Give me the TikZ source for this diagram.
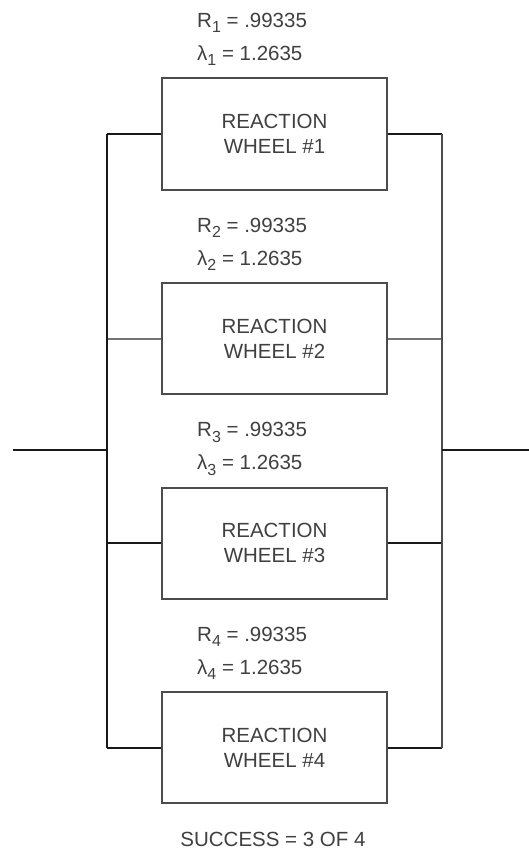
\documentclass[tikz,border=0pt]{standalone}
\usepackage{fontspec}
\setmainfont{Liberation Sans}
\newcommand{\sbs}[1]{\raisebox{-5.5pt}{\fontsize{16}{16}\selectfont #1}}
\begin{document}
\begin{tikzpicture}[x=1pt,y=-1pt,
  wheel/.style={draw=black!70,line width=2pt,minimum width=225pt,minimum height=111pt,
    align=center,inner sep=0pt,text=black!75,font=\fontsize{20.5}{25}\selectfont},
  lbl/.style={anchor=base west,inner sep=0pt,text=black!75,font=\fontsize{20.5}{22}\selectfont},
  wire/.style={line width=2pt,draw=black!90},
  lightwire/.style={line width=2pt,draw=black!55}]
\fill[white] (0,0) rectangle (529,853);
\useasboundingbox (0,0) rectangle (529,853);
\foreach \i/\y in {1/134,2/338.5,3/543,4/747.5}{
  \node[wheel] (w\i) at (274.5,\y) {REACTION\\WHEEL \#\i};
  \node[lbl] (r\i) at (197,\y-55.5-51) {R\sbs{\i} = .99335};
  \node[lbl] (l\i) at (197,\y-55.5-18) {λ\sbs{\i} = 1.2635};
  \coordinate (a\i) at (107,\y);
  \coordinate (b\i) at (442,\y);
}
\foreach \i in {1,3,4}{
  \draw[wire] (w\i.west) -- (a\i);
  \draw[wire] (w\i.east) -- (b\i);
}
\draw[lightwire] (w2.west) -- (a2);
\draw[lightwire] (w2.east) -- (b2);
\coordinate (in) at (13,450);
\coordinate (jl) at (107,450);
\coordinate (jr) at (442,450);
\coordinate (out) at (529,450);
\draw[wire] (a1) -- (a4);
\draw[wire,draw=black!70] (b1) -- (b4);
\draw[wire] (in) -- (jl);
\draw[wire] (jr) -- (out);
\node[text=black!75,font=\fontsize{20.5}{22}\selectfont,inner sep=0pt] (succ) at (273,839) {SUCCESS = 3 OF 4};
\end{tikzpicture}
\end{document}
